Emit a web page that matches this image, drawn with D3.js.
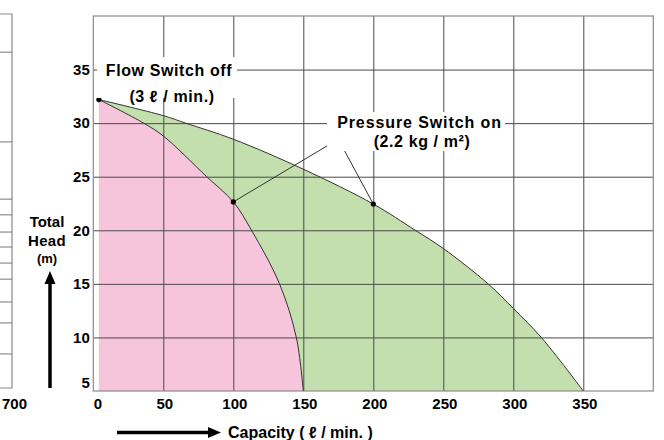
<!DOCTYPE html>
<html>
<head>
<meta charset="utf-8">
<script src="https://cdn.jsdelivr.net/npm/d3@7"></script>
<style>
  body { margin: 0; background: #fff; }
  text { font-family: "Liberation Sans", Arial, sans-serif; font-weight: bold; fill: #000; }
</style>
</head>
<body>
<div id="chart-area"></div>
<script>
// pump curves (capacity l/min, head m)
var pinkQ = [4, 36, 50, 81, 100, 113, 133, 145, 150];
var pinkH = [32.2, 30, 28.8, 25, 22.65, 20, 15, 10, 5];
var greenQ = [4, 50, 66, 100, 150, 200, 230, 250, 282, 300, 320, 350];
var greenH = [32.2, 30.7, 30, 28.5, 25.7, 22.45, 20, 18.3, 15, 12.7, 10, 5];

var xTicks = [0, 50, 100, 150, 200, 250, 300, 350];
var yTicks = [5, 10, 15, 20, 25, 30, 35];

var flowDot = [4, 32.2];
var pressureDots = [[100, 22.65], [200, 22.45]];
var pressureApex = [175, 28.5];

// fragment of the neighbouring chart on the left (relative positions)
var leftPanelLines = [0.898, 0.658, 0.505, 0.463, 0.417, 0.377, 0.334, 0.291, 0.230, 0.174, 0.091];
var leftPanelLabel = "700";

var margin = { left: 93.3, right: 10.7, top: 16, bottom: 49 },
    width = 664 - margin.left - margin.right,
    height = 440 - margin.top - margin.bottom;

var svg = d3.select("#chart-area").append("svg")
    .attr("width", 664)
    .attr("height", 440);

var g = svg.append("g")
    .attr("transform", "translate(" + margin.left + "," + margin.top + ")");

// Scales
var x = d3.scaleLinear().domain([0, 400]).range([0, width]);
var y = d3.scaleLinear().domain([5, 40]).range([height, 0]);

var pink = pinkQ.map(function(q, i) { return { q: q, h: pinkH[i] }; });
var green = greenQ.map(function(q, i) { return { q: q, h: greenH[i] }; });

var smooth = d3.curveCatmullRom.alpha(0.5);

var area = d3.area()
    .x(function(d) { return x(d.q); })
    .y0(height)
    .y1(function(d) { return y(d.h); })
    .curve(smooth);

var line = d3.line()
    .x(function(d) { return x(d.q); })
    .y(function(d) { return y(d.h); })
    .curve(smooth);

// Fills
g.append("path").attr("d", area(green)).attr("fill", "#c3dfae");
g.append("path").attr("d", area(pink)).attr("fill", "#f6c5dc");

// Grid
g.append("g")
    .attr("class", "grid")
    .attr("transform", "translate(0," + height + ")")
    .call(d3.axisBottom(x).tickValues(xTicks.slice(1)).tickSize(-height).tickFormat(""))
    .call(function(s) { s.select(".domain").remove(); })
    .selectAll("line").attr("stroke", "#4a4a4a").attr("stroke-width", 1);
g.append("g")
    .attr("class", "grid")
    .call(d3.axisLeft(y).tickValues(yTicks.slice(1)).tickSize(-width).tickFormat(""))
    .call(function(s) { s.select(".domain").remove(); })
    .selectAll("line").attr("stroke", "#4a4a4a").attr("stroke-width", 1);

// Frame
g.append("rect")
    .attr("width", width)
    .attr("height", height)
    .attr("fill", "none")
    .attr("stroke", "#8a8a8a")
    .attr("stroke-width", 1.2);

// white backing of the two annotations (hides the grid)
svg.append("rect").attr("x", 97).attr("y", 57).attr("width", 140).attr("height", 41).attr("fill", "#fff");
svg.append("rect").attr("x", 327).attr("y", 112).attr("width", 178).attr("height", 39).attr("fill", "#fff");

// Curves
g.append("path").attr("d", line(green)).attr("fill", "none").attr("stroke", "#333").attr("stroke-width", 1);
g.append("path").attr("d", line(pink)).attr("fill", "none").attr("stroke", "#333").attr("stroke-width", 1);

// Tick labels
g.selectAll(".xlab").data(xTicks).enter().append("text")
    .attr("class", "xlab")
    .attr("x", function(d) { return x(d) + (d == 0 ? 4.5 : 1.5); })
    .attr("y", height + 17.5)
    .attr("text-anchor", "middle")
    .style("font-size", "15px")
    .text(function(d) { return d; });

g.selectAll(".ylab").data(yTicks).enter().append("text")
    .attr("class", "ylab")
    .attr("x", -3.5)
    .attr("y", function(d) { return y(d) + (d == 5 ? -8 : 0); })
    .attr("dy", "0.35em")
    .attr("text-anchor", "end")
    .style("font-size", "15px")
    .text(function(d) { return d; });

// Flow switch annotation
svg.append("text")
    .attr("x", 169).attr("y", 76)
    .attr("text-anchor", "middle")
    .style("font-size", "16px").style("letter-spacing", "0.6px")
    .text("Flow Switch off");
svg.append("text")
    .attr("x", 172).attr("y", 101.5)
    .attr("text-anchor", "middle")
    .style("font-size", "16px").style("letter-spacing", "0.6px")
    .text("(3 \u2113 / min.)");
g.append("circle")
    .attr("cx", x(flowDot[0])).attr("cy", y(flowDot[1]))
    .attr("r", 2.6).attr("fill", "#000");

// Pressure switch annotation
svg.append("text")
    .attr("x", 419.5).attr("y", 127.5)
    .attr("text-anchor", "middle")
    .style("font-size", "16px").style("letter-spacing", "0.9px")
    .text("Pressure Switch on");
svg.append("text")
    .attr("x", 422).attr("y", 146.5)
    .attr("text-anchor", "middle")
    .style("font-size", "16px").style("letter-spacing", "0.6px")
    .text("(2.2 kg / m\u00b2)");
pressureDots.forEach(function(p) {
    g.append("line")
        .attr("x1", x(p[0])).attr("y1", y(p[1]))
        .attr("x2", x(pressureApex[0])).attr("y2", y(pressureApex[1]))
        .attr("stroke", "#333").attr("stroke-width", 1);
    g.append("circle")
        .attr("cx", x(p[0])).attr("cy", y(p[1]))
        .attr("r", 2.6).attr("fill", "#000");
});

// Y-axis title and arrow
var yt = svg.append("text")
    .attr("text-anchor", "middle")
    .attr("x", 47);
yt.append("tspan").attr("x", 47).attr("y", 227).style("font-size", "15px").text("Total");
yt.append("tspan").attr("x", 47).attr("y", 245.5).style("font-size", "15px").style("letter-spacing", "0.3px").text("Head");
yt.append("tspan").attr("x", 47).attr("y", 263).style("font-size", "13px").text("(m)");

svg.append("line")
    .attr("x1", 50).attr("y1", 388).attr("x2", 50).attr("y2", 282)
    .attr("stroke", "#000").attr("stroke-width", 3.5);
svg.append("path")
    .attr("d", "M50,271 L55.5,284 L44.5,284 Z")
    .attr("fill", "#000");

// X-axis title and arrow
svg.append("line")
    .attr("x1", 117).attr("y1", 432.5).attr("x2", 210).attr("y2", 432.5)
    .attr("stroke", "#000").attr("stroke-width", 3.5);
svg.append("path")
    .attr("d", "M221,432.5 L208,427 L208,438 Z")
    .attr("fill", "#000");
svg.append("text")
    .attr("x", 228).attr("y", 438)
    .style("font-size", "16px")
    .text("Capacity ( \u2113 / min. )");

// Left neighbouring chart fragment
var leftY = d3.scaleLinear().domain([0, 1]).range([388, 14]);
var lp = svg.append("g");
lp.append("path")
    .attr("d", "M0," + leftY(1) + " H12 V" + leftY(0) + " H0")
    .attr("fill", "none")
    .attr("stroke", "#8a8a8a")
    .attr("stroke-width", 1.2);
lp.selectAll(".lpl").data(leftPanelLines).enter().append("line")
    .attr("x1", 0).attr("x2", 12)
    .attr("y1", function(d) { return leftY(d); })
    .attr("y2", function(d) { return leftY(d); })
    .attr("stroke", "#777").attr("stroke-width", 1);
lp.append("text")
    .attr("x", 2).attr("y", 408.5)
    .style("font-size", "15px")
    .text(leftPanelLabel);
</script>
</body>
</html>
